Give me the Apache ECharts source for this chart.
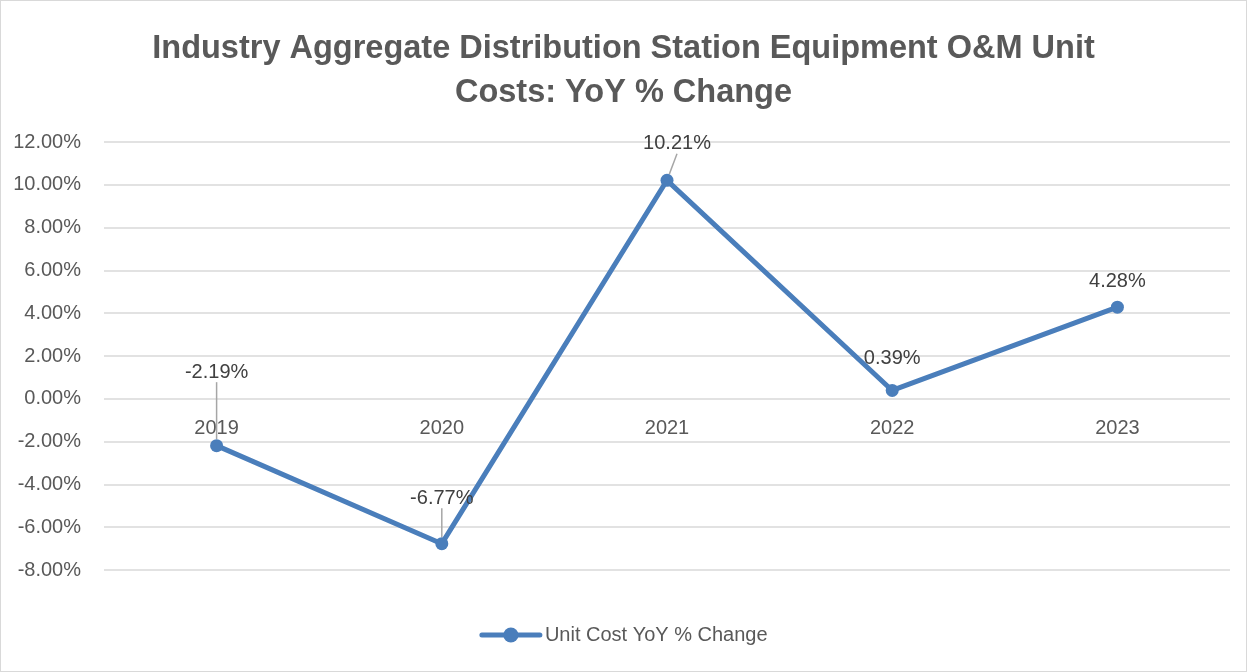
<!DOCTYPE html>
<html>
<head>
<meta charset="utf-8">
<script src="https://cdn.jsdelivr.net/npm/echarts@6/dist/echarts.min.js"></script>
<style>
  html, body { margin: 0; padding: 0; background: #fff; }
  #chart { width: 1245px; height: 670px; border: 1px solid #d9d9d9; }
</style>
</head>
<body>
<div id="chart"></div>
<script>
// chart data
var years = ['2019', '2020', '2021', '2022', '2023'];
var yoyChange = [-2.19, -6.77, 10.21, 0.39, 4.28];
var seriesName = 'Unit Cost YoY % Change';

// label placement (px above the point) and whether a leader line shows
var labelShift = [[0, -51], [0, -23], [10, -14], [0, -9], [0, -3]];
var showLeader = [true, true, true, false, false];

var chart = echarts.init(document.getElementById('chart'));
chart.setOption({
  animation: false,
  textStyle: { fontFamily: 'Liberation Sans' },
  title: {
    text: 'Industry Aggregate Distribution Station Equipment O&M Unit\nCosts: YoY % Change',
    left: 'center',
    top: 21,
    textStyle: {
      fontSize: 32.5,
      fontWeight: 'bold',
      color: '#595959',
      lineHeight: 44
    }
  },
  legend: {
    bottom: 21,
    left: 'center',
    itemWidth: 58,
    itemHeight: 19,
    itemGap: 4,
    lineStyle: { width: 5, cap: 'round' },
    textStyle: { fontSize: 20, color: '#595959' },
    data: [seriesName]
  },
  grid: {
    left: 103,
    right: 16,
    top: 141,
    bottom: 101
  },
  xAxis: {
    type: 'category',
    data: years,
    axisLine: { show: false, onZero: false },
    axisTick: { show: false },
    axisLabel: { fontSize: 20, color: '#595959', margin: 20 }
  },
  yAxis: {
    type: 'value',
    min: -8,
    max: 12,
    interval: 2,
    axisLine: { show: false },
    axisTick: { show: false },
    axisLabel: {
      fontSize: 20,
      color: '#595959',
      margin: 23,
      formatter: function (v) { return v.toFixed(2) + '%'; }
    },
    splitLine: { lineStyle: { color: '#d9d9d9', width: 1.5 } }
  },
  series: [{
    name: seriesName,
    type: 'line',
    data: yoyChange.map(function (v, i) {
      return { value: v, labelLine: { show: showLeader[i] } };
    }),
    symbol: 'circle',
    symbolSize: 13,
    itemStyle: { color: '#4a7ebb' },
    lineStyle: { color: '#4a7ebb', width: 5 },
    label: {
      show: true,
      position: 'top',
      distance: 6,
      fontSize: 20,
      color: '#404040',
      formatter: function (p) { return p.value.toFixed(2) + '%'; }
    },
    labelLine: { show: true, lineStyle: { color: '#a6a6a6', width: 1.5 } },
    labelLayout: function (p) {
      var s = labelShift[p.dataIndex];
      return { dx: s[0], dy: s[1] };
    }
  }]
});

// put the category labels just under the 0% line, as excel does
var zeroY = chart.convertToPixel({ yAxisIndex: 0 }, 0);
var bottomY = chart.convertToPixel({ yAxisIndex: 0 }, -8);
chart.setOption({ xAxis: { offset: zeroY - bottomY } });
</script>
</body>
</html>
